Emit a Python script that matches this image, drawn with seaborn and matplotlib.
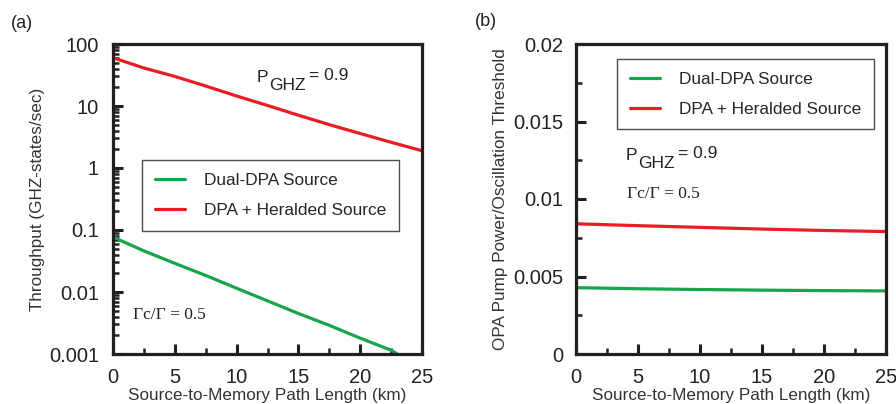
import matplotlib
matplotlib.use("Agg")
import matplotlib.pyplot as plt
import seaborn as sns
import pandas as pd
import numpy as np

# ---- data ----
dist_a = [0, 2.5, 5, 7.5, 10, 12.5, 15, 17.5, 20, 22.5, 25]
heralded_a = [60, 41, 30, 21, 14.5, 10.2, 7.1, 5.0, 3.6, 2.6, 1.9]
dist_a_dual = [0, 2.5, 5, 7.5, 10, 12.5, 15, 17.5, 20, 22.5, 23]
dual_a = [0.077, 0.046, 0.029, 0.0185, 0.0115, 0.0072, 0.0045, 0.0029, 0.0018, 0.00115, 0.001]

dist_b = [0, 5, 10, 15, 20, 25]
heralded_b = [0.0084, 0.00828, 0.00817, 0.00806, 0.00797, 0.0079]
dual_b = [0.00428, 0.00421, 0.00416, 0.00412, 0.00409, 0.00407]

series_names = ["Dual-DPA Source", "DPA + Heralded Source"]
colors = {"Dual-DPA Source": "#16a44c", "DPA + Heralded Source": "#ec1c24"}

sns.set_style("ticks")
plt.rcParams['font.family'] = ['Liberation Sans', 'DejaVu Sans']

df_a = pd.concat([
    pd.DataFrame({"x": dist_a_dual, "y": dual_a, "s": series_names[0]}),
    pd.DataFrame({"x": dist_a, "y": heralded_a, "s": series_names[1]}),
])
df_b = pd.concat([
    pd.DataFrame({"x": dist_b, "y": dual_b, "s": series_names[0]}),
    pd.DataFrame({"x": dist_b, "y": heralded_b, "s": series_names[1]}),
])

W, H = 896, 404
fig = plt.figure(figsize=(W / 100, H / 100), dpi=100)
ax1 = fig.add_axes([113/W, 50/H, 309/W, 310/H])
ax2 = fig.add_axes([576/W, 50/H, 310/W, 310/H])

spine_c = "#231f20"
txt_c = "#222222"
lab_c = "#333333"
for ax, df in ((ax1, df_a), (ax2, df_b)):
    sns.lineplot(data=df, x="x", y="y", hue="s", hue_order=series_names,
                 palette=colors, ax=ax, linewidth=2.3, sort=False)
    for sp in ax.spines.values():
        sp.set_visible(True)
        sp.set_linewidth(2.3)
        sp.set_color(spine_c)
    ax.set_xlim(0, 25)
    ax.set_xticks([0, 5, 10, 15, 20, 25])
    ax.set_xticks(np.arange(2.5, 25, 5), minor=True)
    ax.tick_params(axis='both', which='major', direction='in', length=7, width=2.2,
                   labelsize=14.5, color=spine_c, top=False, right=False, pad=9)
    ax.tick_params(axis='both', which='minor', direction='in', length=4, width=1.8,
                   color=spine_c, top=False, right=False)
    ax.set_xlabel("Source-to-Memory Path Length (km)", fontsize=12.3, color=lab_c, labelpad=1)
    for lbl in ax.get_xticklabels() + ax.get_yticklabels():
        lbl.set_color(txt_c)

# panel a
ax1.set_yscale('log')
ax1.set_ylim(0.001, 100)
ax1.set_yticks([0.001, 0.01, 0.1, 1, 10, 100])
ax1.set_yticklabels(["0.001", "0.01", "0.1", "1", "10", "100"])
ax1.yaxis.set_minor_locator(matplotlib.ticker.LogLocator(base=10, subs=np.arange(2, 10)))
ax1.yaxis.set_minor_formatter(matplotlib.ticker.NullFormatter())
ax1.tick_params(axis='y', which='major', pad=10)
ax1.tick_params(axis='x', which='major', pad=10)
ax1.set_ylabel("Throughput (GHZ-states/sec)", fontsize=12.3, color=lab_c, labelpad=3)
ax1.text(0.065, 0.125, "Γc/Γ = 0.5", transform=ax1.transAxes,
         fontsize=12.5, family=['Liberation Serif', 'DejaVu Serif'], color=txt_c,
         ha="left", va="center")
leg_kw = dict(loc="upper left", frameon=True, fancybox=False, edgecolor="#222222",
              fontsize=12.4, handlelength=1.75, borderpad=0.75, labelspacing=0.85,
              handletextpad=1.1, borderaxespad=0)
leg1 = ax1.legend(bbox_to_anchor=(0.094, 0.625), **leg_kw)
leg1.get_frame().set_linewidth(1.0)

# panel b
ax2.set_ylim(0, 0.02)
ax2.set_yticks([0, 0.005, 0.01, 0.015, 0.02])
ax2.set_yticklabels(["0", "0.005", "0.01", "0.015", "0.02"])
ax2.set_yticks([0.0025, 0.0075, 0.0125, 0.0175], minor=True)
ax2.tick_params(axis='y', which='major', pad=9)
ax2.tick_params(axis='x', which='major', pad=10)
ax2.set_ylabel("OPA Pump Power/Oscillation Threshold", fontsize=12.3, color=lab_c, labelpad=4)
ax2.text(0.165, 0.515, "Γc/Γ = 0.5", transform=ax2.transAxes,
         fontsize=12.5, family=['Liberation Serif', 'DejaVu Serif'], color=txt_c,
         ha="left", va="center")
leg2 = ax2.legend(bbox_to_anchor=(0.132, 0.952), **leg_kw)
leg2.get_frame().set_linewidth(1.0)

# P_GHZ annotations (P, subscript GHZ, "= 0.9")
def pghz(x, y):
    fig.text(x / W, 1 - y / H, "P", fontsize=12.5, ha="left", va="center", color=txt_c)
    fig.text((x + 12) / W, 1 - (y + 8) / H, "GHZ", fontsize=12.5, ha="left", va="center", color=txt_c)
    fig.text((x + 52) / W, 1 - (y - 1) / H, "= 0.9", fontsize=12.5, ha="left", va="center", color=txt_c)

pghz(257, 77)
pghz(626, 155)

fig.text(11/W, 1 - 23/H, "(a)", fontsize=13, ha="left", va="center", color=txt_c)
fig.text(475/W, 1 - 22/H, "(b)", fontsize=13, ha="left", va="center", color=txt_c)

fig.savefig("out.png", dpi=100)
